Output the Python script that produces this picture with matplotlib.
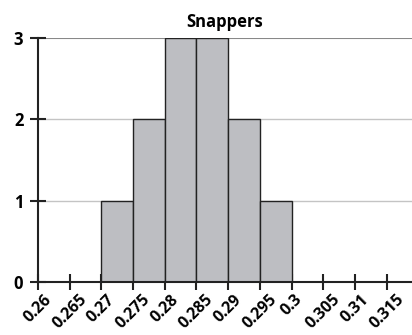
import numpy as np
import matplotlib
matplotlib.use("Agg")
import matplotlib.pyplot as plt

# histogram data: left bin edges and counts
bin_left = [0.26, 0.265, 0.27, 0.275, 0.28, 0.285, 0.29, 0.295, 0.3, 0.305, 0.31]
counts = [0, 0, 1, 2, 3, 3, 2, 1, 0, 0, 0]
bin_width = 0.005
x_ticks = [0.26, 0.265, 0.27, 0.275, 0.28, 0.285, 0.29, 0.295, 0.3, 0.305, 0.31, 0.315]
x_labels = ['0.26', '0.265', '0.27', '0.275', '0.28', '0.285', '0.29', '0.295',
            '0.3', '0.305', '0.31', '0.315']
y_ticks = [0, 1, 2, 3]

plt.rcParams['font.family'] = ['Open Sans', 'DejaVu Sans']

fig = plt.figure(figsize=(4.12, 3.35), dpi=100)
ax = fig.add_axes([0.092, 0.158, 0.908, 0.729])

for y in y_ticks[1:]:
    ax.axhline(y, color='#888888' if y == max(y_ticks) else '#c4c4c4',
               lw=1.5 if y == max(y_ticks) else 1.0, zorder=0)

ax.bar(bin_left, counts, width=bin_width, align='edge', color='#bdbec2',
       edgecolor='#222222', linewidth=1.0, zorder=2)

ax.set_xlim(0.26, 0.319)
ax.set_ylim(0, 3)
ax.set_xticks(x_ticks)
ax.set_xticklabels(x_labels, rotation=45, ha='center', va='top',
                   fontweight='bold', fontsize=11.5)
ax.set_yticks(y_ticks)
ax.set_yticklabels([str(v) for v in y_ticks], fontweight='bold', fontsize=12)

for s in ['top', 'right']:
    ax.spines[s].set_visible(False)
for s in ['left', 'bottom']:
    ax.spines[s].set_linewidth(1.5)
    ax.spines[s].set_color('#222222')
    ax.spines[s].set_zorder(3)

ax.tick_params(axis='x', direction='inout', length=12, width=1.5, color='#222222', pad=1)
ax.tick_params(axis='y', direction='inout', length=11, width=1.5, color='#222222', pad=5)

ax.set_title('Snappers', fontweight='bold', fontsize=12, pad=8)

fig.savefig('out.png', dpi=100)
